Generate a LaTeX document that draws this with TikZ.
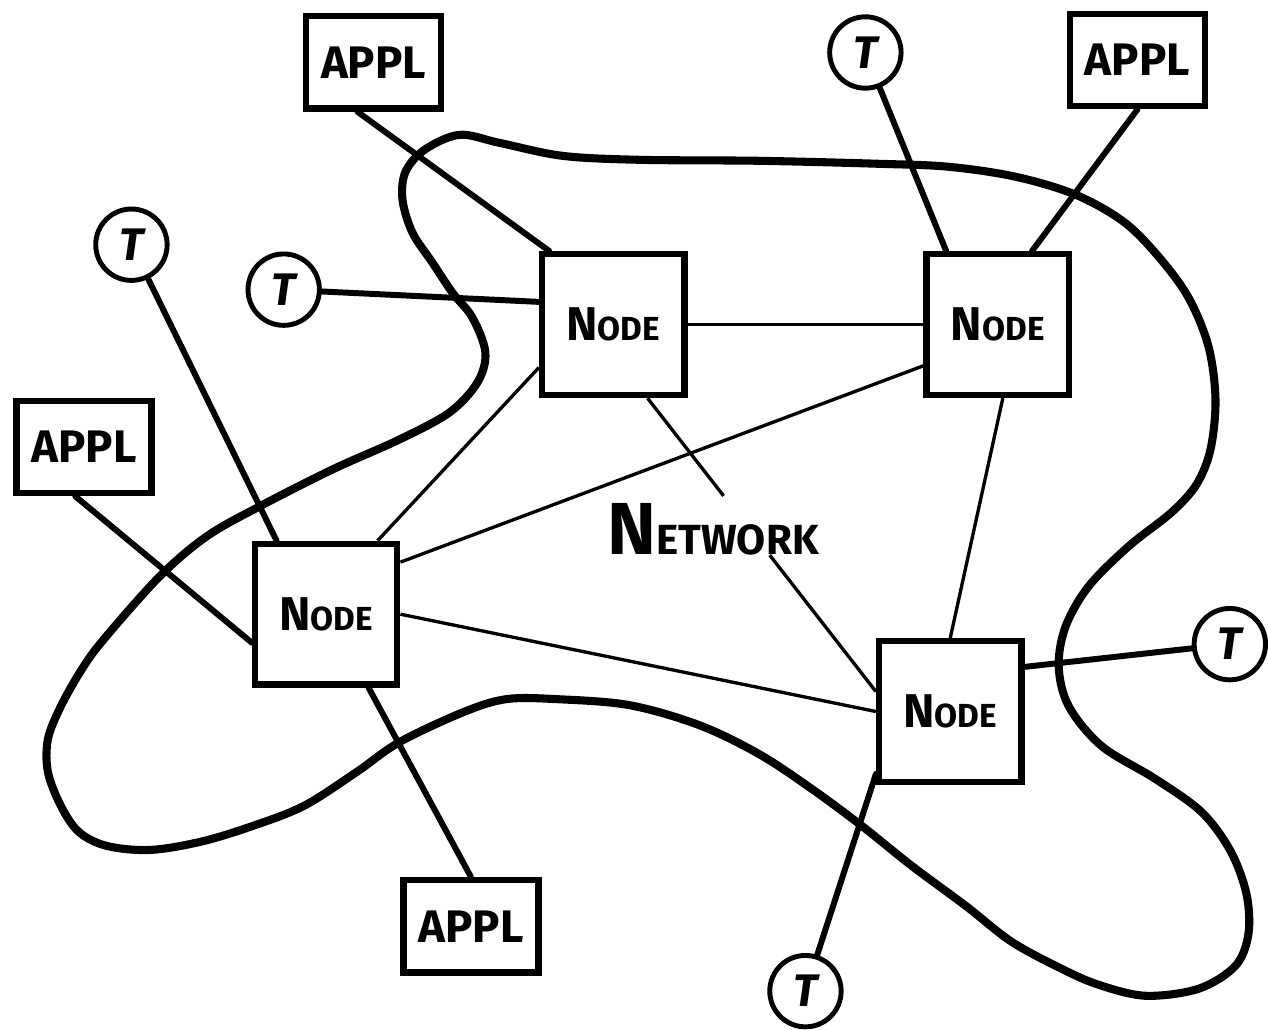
\documentclass[tikz,border=0pt]{standalone}
\usepackage{fontspec}
\setmainfont{Fira Sans}
\usetikzlibrary{shapes,shapes.geometric,calc}
\tikzstyle{netnode} = [rectangle, minimum width=2.85cm, minimum height=2.82cm, text centered, draw=black, line width=3.6pt, font=\bfseries]
\tikzstyle{appl} = [rectangle, minimum width=2.7cm, minimum height=1.85cm, text centered, draw=black, line width=3.6pt, font=\bfseries\fontsize{26}{26}\selectfont]
\tikzstyle{terminal} = [circle, minimum size=1.43cm, inner sep=0pt, draw=black, line width=2.8pt, font=\bfseries\itshape\fontsize{26}{26}\selectfont]
\tikzstyle{thickline} = [line width=3.4pt, line cap=round]
\tikzstyle{thinline} = [line width=1.9pt]
\tikzstyle{boundary} = [line width=4.6pt, line join=round]
\newcommand{\nodetext}{{\fontsize{27}{27}\selectfont N}{\fontsize{19}{19}\selectfont ODE}}

\begin{document}
\begin{tikzpicture}[node distance=2cm]
%
% Define nodes
%
\node (ntl) [netnode] {\nodetext};
\node (ntr) [netnode, right of=ntl, xshift=5.7cm] {\nodetext};
\node (nl)  [netnode, below of=ntl, xshift=-5.75cm, yshift=-3.8cm] {\nodetext};
\node (nbr) [netnode, below of=ntr, xshift=-0.95cm, yshift=-5.75cm] {\nodetext};
\node (a1) [appl, above of=ntl, xshift=-4.8cm, yshift=3.25cm] {APPL};
\node (a2) [appl, above of=ntr, xshift=2.8cm, yshift=3.3cm] {APPL};
\node (a3) [appl, left of=nl, xshift=-2.85cm, yshift=3.35cm] {APPL};
\node (a4) [appl, below of=nl, xshift=2.9cm, yshift=-4.25cm] {APPL};
\node (t1) [terminal, above of=ntr, xshift=-2.65cm, yshift=3.45cm] {T};
\node (t2) [terminal, above of=nl, xshift=-3.9cm, yshift=5.4cm] {T};
\node (t3) [terminal, left of=ntl, xshift=-4.6cm, yshift=0.7cm] {T};
\node (t4) [terminal, right of=nbr, xshift=3.6cm, yshift=1.35cm] {T};
\node (t5) [terminal, below of=nbr, xshift=-2.9cm, yshift=-3.6cm] {T};
\node (net) [below of=ntl, xshift=2cm, yshift=-2.1cm, font=\bfseries]
{{\fontsize{42}{42}\selectfont N}{\fontsize{24}{24}\selectfont ETWORK}};
\coordinate (gapa) at ($(ntl.-65)!0.333!(nbr.165)$);
\coordinate (gapb) at ($(ntl.-65)!0.535!(nbr.165)$);
%
% Connect nodes
%
\draw [thickline] (a1.-108) -- (ntl.131);
\draw [thickline] (t1) -- (ntr.125);
\draw [thickline] (a2.south) -- (ntr.65);
\draw [thickline] (t3) -- (ntl.163);
\draw [thinline] (ntl) -- (ntr);
\draw [thickline] (t2) -- (nl.124);
\draw [thickline] (a3.-100) -- (nl.-159);
\draw [thinline] (ntl.-150) -- (nl.55);
\draw [thinline] (ntr.-151) -- (nl.35);
\draw [thinline] (nl.east) -- (nbr.west);
\draw [thinline] (ntr.-86) -- (nbr.north);
\draw [thinline] (ntl.-65) -- (gapa);
\draw [thinline] (gapb) -- (nbr.165);
\draw [thickline] (nbr.31) -- (t4);
\draw [thickline] (nbr.-140) -- (t5);
\draw [thickline] (nl.-60) -- (a4.north);
%
% Network boundary
%
\begin{scope}[x=0.02cm, y=-0.02cm, shift={(-614,-325)}]
\useasboundingbox (0,0) rectangle (1268,1031);
\draw [boundary] plot [smooth cycle, tension=0.55] coordinates {
(460,135) (500,143) (563,156) (640,160) (760,161) (880,164) (950,167)
(1017,177) (1077,195) (1125,222) (1160,257) (1190,298) (1210,347)
(1217,400) (1212,450) (1198,485) (1173,513) (1130,547) (1090,587)
(1067,627) (1060,667) (1070,707) (1103,747) (1157,780) (1203,813)
(1232,852) (1248,895) (1250,935) (1237,967) (1200,990) (1147,997)
(1100,986) (1063,970) (1013,943) (967,907) (913,867) (863,827)
(813,790) (760,755) (700,726) (630,706) (557,700) (507,700) (464,713)
(400,743) (357,773) (304,807) (250,828) (200,843) (150,851) (107,847)
(79,833) (61,807) (48,773) (48,740) (61,707) (82,670) (104,640)
(160,577) (207,537) (260,507) (333,470) (400,440) (450,413) (478,383)
(486,353) (473,318) (453,293) (433,263) (413,233) (403,200) (406,172)
(425,150)};
\end{scope}
\end{tikzpicture}
\end{document}
